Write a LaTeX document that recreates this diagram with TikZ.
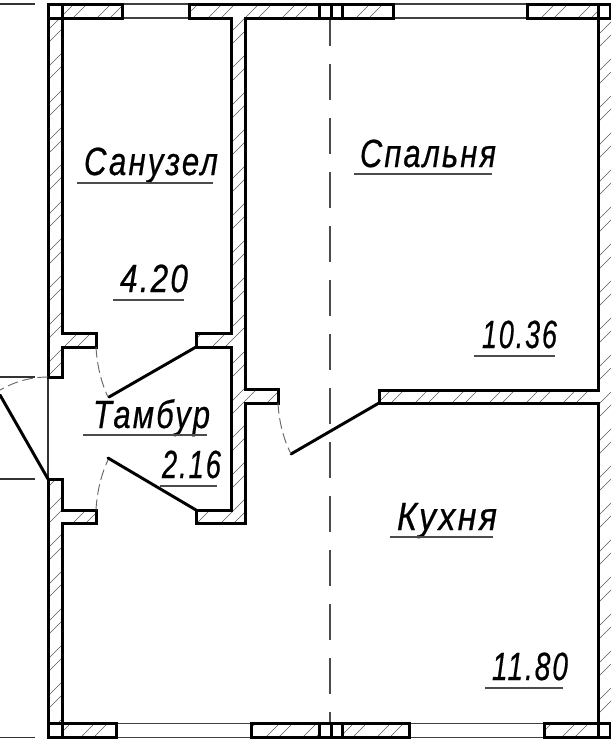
\documentclass[tikz,border=0pt]{standalone}
\usepackage{fontspec}
\usepackage{graphicx}
\setmainfont[LetterSpace=7,FakeBold=0.6]{Liberation Sans}
\newlength{\pxu}\setlength{\pxu}{0.75pt}
\newcommand{\lbl}[5]{\node[anchor=base west,inner sep=0pt,outer sep=0pt,font=\fontsize{29.5pt}{29.5pt}\selectfont\itshape] (#1) at (#3,#4) {\resizebox{#5\pxu}{\height}{#2}};}
\tikzset{
  wall/.style={line width=2.25pt,line join=miter,black},
  winline/.style={line width=1.1pt,black!75},
  hatchline/.style={line width=0.5pt,black!65},
  leaf/.style={line width=2.2pt,line cap=round},
  swing/.style={line width=0.7pt,black!60,dash pattern=on 8pt off 3.5pt},
  axisline/.style={line width=0.8pt,black!70,dash pattern=on 27pt off 13.5pt,dash phase=6pt},
  thinline/.style={line width=0.9pt,black!80},
  under/.style={line width=1pt,black!70}
}
\begin{document}
\begin{tikzpicture}[x=0.75pt,y=-0.75pt]
\useasboundingbox (0,0) rectangle (611,744);
% hatching
\begin{scope}
\clip (48,4) rectangle (122,18) (189,4) rectangle (393,18) (527,4) rectangle (611,18)
      (48,4) rectangle (62,377) (48,479) rectangle (62,737.5)
      (62,333) rectangle (96,347) (62,510) rectangle (96,523)
      (196,333) rectangle (245,347) (196,510) rectangle (245,523)
      (231,4) rectangle (245,523) (245,389) rectangle (278,403)
      (379,390) rectangle (611,403) (597,4) rectangle (611,737.5)
      (48,723.5) rectangle (116,737.5) (251,723.5) rectangle (409,737.5) (544,723.5) rectangle (611,737.5);
\foreach \k in {0,...,36}{
  \pgfmathsetmacro{\ca}{4+37*\k}
  \pgfmathsetmacro{\cb}{17+37*\k}
  \draw[hatchline] (\ca,0) -- (0,\ca);
  \draw[hatchline] (\cb,0) -- (0,\cb);
}
\end{scope}
% window lines
\draw[winline] (122,4) -- (189,4) (122,18) -- (189,18) (393,4) -- (527,4) (393,18) -- (527,18);
\draw[winline] (116,723.5) -- (251,723.5) (116,737.5) -- (251,737.5) (409,723.5) -- (544,723.5) (409,737.5) -- (544,737.5);
% thin
\draw[thinline] (48,377) -- (48,479);
\draw[thinline] (0,4) -- (35,4) (0,377) -- (35,377) (0,479) -- (35,479) (0,737.5) -- (35,737.5);
% axis
\draw[axisline] (330,18) -- (330,723.5);
% walls
\draw[wall] (48,4) -- (122,4) -- (122,18) -- (62,18) -- (62,333) -- (96,333) -- (96,347) -- (62,347) -- (62,377) -- (48,377) -- cycle;
\draw[wall] (48,479) -- (62,479) -- (62,510) -- (96,510) -- (96,523) -- (62,523) -- (62,723.5) -- (116,723.5) -- (116,737.5) -- (48,737.5) -- cycle;
\draw[wall] (189,4) -- (393,4) -- (393,18) -- (245,18) -- (245,389) -- (278,389) -- (278,403) -- (245,403) -- (245,523) -- (196,523) -- (196,510) -- (231,510) -- (231,347) -- (196,347) -- (196,333) -- (231,333) -- (231,18) -- (189,18) -- cycle;
\draw[wall] (527,4) -- (614,4) -- (614,737.5) -- (544,737.5) -- (544,723.5) -- (598,723.5) -- (598,403) -- (379,403) -- (379,390) -- (598,390) -- (598,18) -- (527,18) -- cycle;
\draw[wall] (251,723.5) rectangle (409,737.5);
% corner and pier squares
\foreach \xa/\xb/\ya/\yb in {48/62/4/18,598/610.5/4/18,48/62/723.5/737.5,598/610.5/723.5/737.5,319/331/4/18,331/342/4/18,319/331/723.5/737.5,331/342/723.5/737.5}{
  \draw[wall,fill=white] (\xa,\ya) rectangle (\xb,\yb);
}
% doors
\draw[leaf] (196,347) -- (109,397);
\draw[leaf] (196,510) -- (108,458);
\draw[leaf] (379,403) -- (291,454);
\draw[leaf] (48,479) -- (0,395);
\draw[swing] (96,347) .. controls (97,365) and (101,382) .. (108,397);
\draw[swing] (96,510) .. controls (97,492) and (101,475) .. (108,460);
\draw[swing] (278,403) .. controls (279,421) and (283,438) .. (291,454);
\draw[swing] (48,377) .. controls (30,377) and (14,382) .. (0,390);
% labels
\lbl{san}{Санузел}{84}{175}{134}
\draw[under] (77,183) -- (213,183);
\lbl{sana}{4.20}{120}{292}{68}
\draw[under] (113,300) -- (184,300);
\lbl{spa}{Спальня}{360}{167}{136}
\draw[under] (354,174) -- (492,174);
\lbl{spaa}{10.36}{482}{348}{75}
\draw[under] (474,356) -- (555,356);
\lbl{tam}{Тамбур}{93}{428}{117}
\draw[under] (83,435) -- (207,435);
\lbl{tama}{2.16}{162}{478}{59}
\draw[under] (160,486) -- (217,486);
\lbl{kuh}{Кухня}{397}{530}{100}
\draw[under] (390,537) -- (493,537);
\lbl{kuha}{11.80}{492}{680}{76}
\draw[under] (485,688) -- (563,688);
\end{tikzpicture}
\end{document}
